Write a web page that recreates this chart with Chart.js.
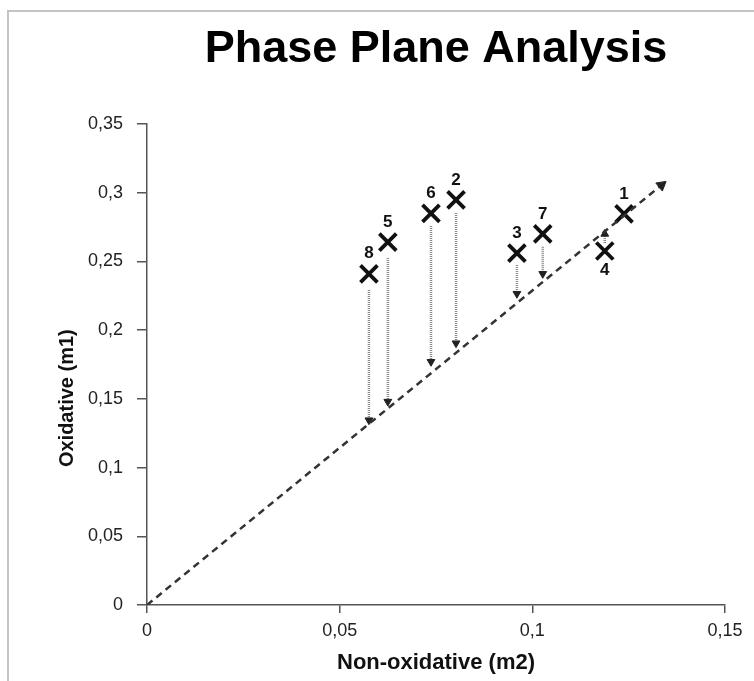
<!DOCTYPE html>
<html>
<head>
<meta charset="utf-8">
<script src="https://cdn.jsdelivr.net/npm/chart.js"></script>
<style>
  html, body { margin: 0; padding: 0; background: #fff; overflow: hidden; }
  #frame { position: absolute; left: 7px; top: 10px; width: 800px; height: 720px; border: 2px solid #c4c4c4; }
  #wrap { position: absolute; left: 0; top: 0; width: 754px; height: 681px; }
</style>
</head>
<body>
<div id="frame"></div>
<div id="wrap"><canvas id="phaseChart" width="754" height="681"></canvas></div>
<script>
// point labels and positions
const pointLabels = ['1', '2', '3', '4', '5', '6', '7', '8'];
const nonOxidative = [0.1238, 0.0802, 0.0960, 0.1188, 0.0625, 0.0737, 0.1027, 0.0576];
const oxidative    = [0.2846, 0.2948, 0.2560, 0.2576, 0.2640, 0.2850, 0.2700, 0.2410];
const labelBelow   = [false, false, false, true, false, false, false, false];

// vertical dotted arrows (from just under/over the point to the line)
const arrowFrom = [null, 0.2853, 0.2474, 0.2635, 0.2525, 0.2758, 0.2606, 0.2293];
const arrowTo   = [null, 0.1905, 0.2265, 0.2700, 0.1480, 0.1770, 0.2410, 0.1345];

// dashed reference line
const lineX = [0, 0.1335];
const lineY = [0, 0.3055];

const xTicks = [0, 0.05, 0.1, 0.15];
const yTicks = [0, 0.05, 0.1, 0.15, 0.2, 0.25, 0.3, 0.35];

const FONT = '"Liberation Sans", Arial, sans-serif';
const fmt = v => String(+v.toFixed(2)).replace('.', ',');

const datasets = [];

datasets.push({
    type: 'line',
    data: lineX.map((x, i) => ({ x: x, y: lineY[i] })),
    borderColor: '#333',
    borderWidth: 2.5,
    borderDash: [7, 5],
    pointStyle: 'triangle',
    pointRadius: [0, 6],
    pointRotation: 51,
    pointBackgroundColor: '#222',
    pointBorderColor: '#222',
    pointBorderWidth: 1
});

nonOxidative.forEach((x, i) => {
    if (arrowFrom[i] === null) return;
    const up = arrowTo[i] > arrowFrom[i];
    datasets.push({
        type: 'line',
        data: [{ x: x, y: arrowFrom[i] }, { x: x, y: arrowTo[i] }],
        borderColor: '#8a8a8a',
        borderWidth: 2.5,
        borderDash: [1, 1],
        pointStyle: 'triangle',
        pointRadius: [0, 4.5],
        pointRotation: up ? 0 : 180,
        pointBackgroundColor: '#222',
        pointBorderColor: '#222',
        pointBorderWidth: 1
    });
});

datasets.push({
    type: 'scatter',
    data: nonOxidative.map((x, i) => ({ x: x, y: oxidative[i] })),
    pointStyle: 'crossRot',
    pointRadius: 12,
    borderColor: '#111',
    borderWidth: 3.8,
    showLine: false
});

const textPlugin = {
    id: 'extraText',
    afterDatasetsDraw(chart) {
        const { ctx, scales, chartArea } = chart;
        ctx.save();
        ctx.fillStyle = '#111';
        ctx.font = 'bold 17px ' + FONT;
        ctx.textAlign = 'center';
        ctx.textBaseline = 'middle';
        pointLabels.forEach((t, i) => {
            const px = scales.x.getPixelForValue(nonOxidative[i]);
            const py = scales.y.getPixelForValue(oxidative[i]);
            ctx.fillText(t, px, labelBelow[i] ? py + 19 : py - 20);
        });
        // y axis title, set a little below the middle as in the figure
        ctx.font = 'bold 20px ' + FONT;
        ctx.translate(67, chartArea.top + (chartArea.bottom - chartArea.top) * 0.57);
        ctx.rotate(-Math.PI / 2);
        ctx.fillText('Oxidative (m1)', 0, 0);
        ctx.restore();
    }
};

new Chart(document.getElementById('phaseChart').getContext('2d'), {
    data: { datasets: datasets },
    options: {
        responsive: false,
        animation: false,
        layout: { padding: { left: 0, right: 29, top: 0, bottom: 0 } },
        plugins: {
            legend: { display: false },
            tooltip: { enabled: false },
            title: {
                display: true,
                text: 'Phase Plane Analysis',
                fullSize: false,
                color: '#000',
                font: { family: FONT, size: 45, weight: 'bold', lineHeight: 1.2 },
                padding: { top: 23, bottom: 47 }
            }
        },
        scales: {
            x: {
                type: 'linear',
                min: 0,
                max: 0.15,
                afterBuildTicks: s => { s.ticks = xTicks.map(v => ({ value: v })); },
                afterFit: s => { s.height = 76; },
                border: { color: '#555', width: 1.5 },
                grid: { drawOnChartArea: false, drawTicks: true, tickLength: 8, color: '#555', lineWidth: 1.5 },
                ticks: {
                    color: '#222',
                    padding: 7,
                    font: { family: FONT, size: 18 },
                    callback: v => fmt(v)
                },
                title: {
                    display: true,
                    text: 'Non-oxidative (m2)',
                    color: '#111',
                    font: { family: FONT, size: 22, weight: 'bold', lineHeight: 1.2 },
                    padding: { top: 0, bottom: 5 }
                }
            },
            y: {
                type: 'linear',
                min: 0,
                max: 0.35,
                afterBuildTicks: s => { s.ticks = yTicks.map(v => ({ value: v })); },
                afterFit: s => { s.width = 147; },
                border: { color: '#555', width: 1.5 },
                grid: { drawOnChartArea: false, drawTicks: true, tickLength: 10, color: '#555', lineWidth: 1.5 },
                ticks: {
                    color: '#222',
                    padding: 14,
                    font: { family: FONT, size: 18 },
                    callback: v => fmt(v)
                }
            }
        }
    },
    plugins: [textPlugin]
});
</script>
</body>
</html>
